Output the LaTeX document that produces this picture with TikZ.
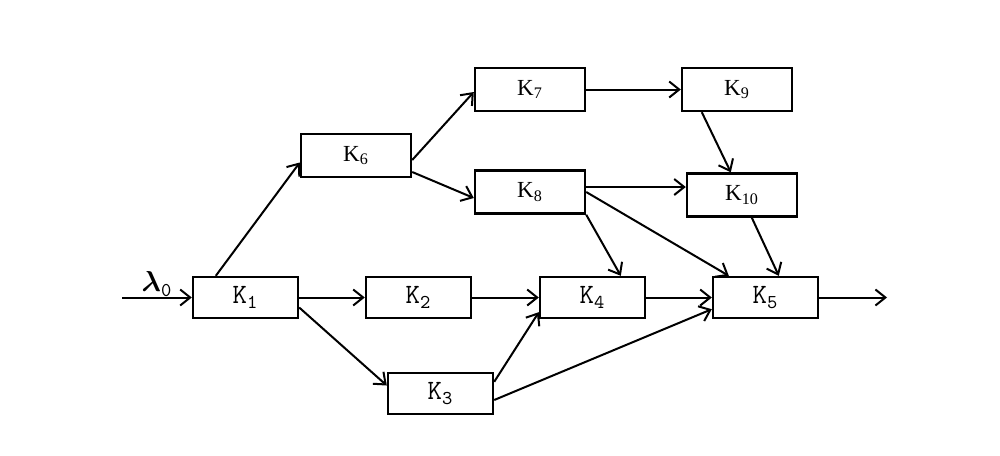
\documentclass[tikz,border=0pt]{standalone}
\usepackage{amsmath}
\usepackage{fontspec}
\setmainfont{Liberation Serif}
\usepackage{tikz}
\usetikzlibrary{positioning, calc, arrows.meta}
\tikzset{
  blk/.style={draw, line width=1.2pt, inner sep=0pt, minimum width=52.5pt, minimum height=20.5pt, font=\ttfamily\fontsize{14}{14}\selectfont},
  blkb/.style={blk, minimum width=55pt, minimum height=21.5pt, font=\fontsize{11.5}{12}\selectfont},
  arr/.style={line width=1pt, -{Straight Barb[length=5pt, width=8pt]}}
}

\begin{document}
\begin{tikzpicture}[x=0.5pt, y=-0.5pt]
            \useasboundingbox (0,0) rectangle (1000,455); % frame in pixels

            % lower row
            \path (245.5,297.5) node (K1) [blk] {K\textsubscript{1}};
            \path (418.5,297.5) node (K2) [blk] {K\textsubscript{2}};
            \path (440.5,393.5) node (K3) [blk] {K\textsubscript{3}};
            \path (592.5,297.5) node (K4) [blk] {K\textsubscript{4}};
            \path (765.5,297.5) node (K5) [blk] {K\textsubscript{5}};

            % upper part
            \path (356,155.5) node (K6) [blkb] {K\textsubscript{6}};
            \path (530,89.5) node (K7) [blkb] {K\textsubscript{7}};
            \path (530,192) node (K8) [blkb] {K\textsubscript{8}};
            \path (737,89.5) node (K9) [blkb] {K\textsubscript{9}};
            \path (742,195) node (K10) [blkb] {K\textsubscript{10}};

            % input and output
            \path (122,297.5) coordinate (in);
            \path (157,284) node (lam) {\ttfamily\fontsize{14}{14}\selectfont $\boldsymbol{\lambda}$\textsubscript{0}};
            \path (887,297.5) coordinate (out);

            \draw [arr] (in) -- (K1.west);
            \draw [arr] (K1.east) -- (K2.west);
            \draw [arr] ($(K1.east)+(0,10)$) -- ($(K3.west)+(0,-8)$);
            \draw [arr] ($(K1.north west)+(24,0)$) -- ($(K6.west)+(0,7)$);
            \draw [arr] (K2.east) -- (K4.west);
            \draw [arr] ($(K3.north east)+(0,10)$) -- ($(K4.south west)+(0,-7)$);
            \draw [arr] ($(K3.east)+(0,6.5)$) -- ($(K5.south west)+(0,-10)$);
            \draw [arr] (K4.east) -- (K5.west);
            \draw [arr] (K5.east) -- (out);

            \draw [arr] ($(K6.east)+(0,4.5)$) -- ($(K7.west)+(0,2.5)$);
            \draw [arr] ($(K6.east)+(0,16.5)$) -- ($(K8.west)+(0,6)$);
            \draw [arr] (K7.east) -- (K9.west);
            \draw [arr] ($(K8.east)+(0,-5)$) -- ($(K10.west)+(0,-8)$);
            \draw [arr] (K8.south east) -- ($(K4.north west)+(82,0)$);
            \draw [arr] (K8.east) -- ($(K5.north west)+(17,0)$);
            \draw [arr] ($(K9.south west)+(21,0)$) -- ($(K10.north west)+(45,0)$);
            \draw [arr] ($(K10.south west)+(66,0)$) -- ($(K5.north west)+(67,0)$);

        \end{tikzpicture}
\end{document}
